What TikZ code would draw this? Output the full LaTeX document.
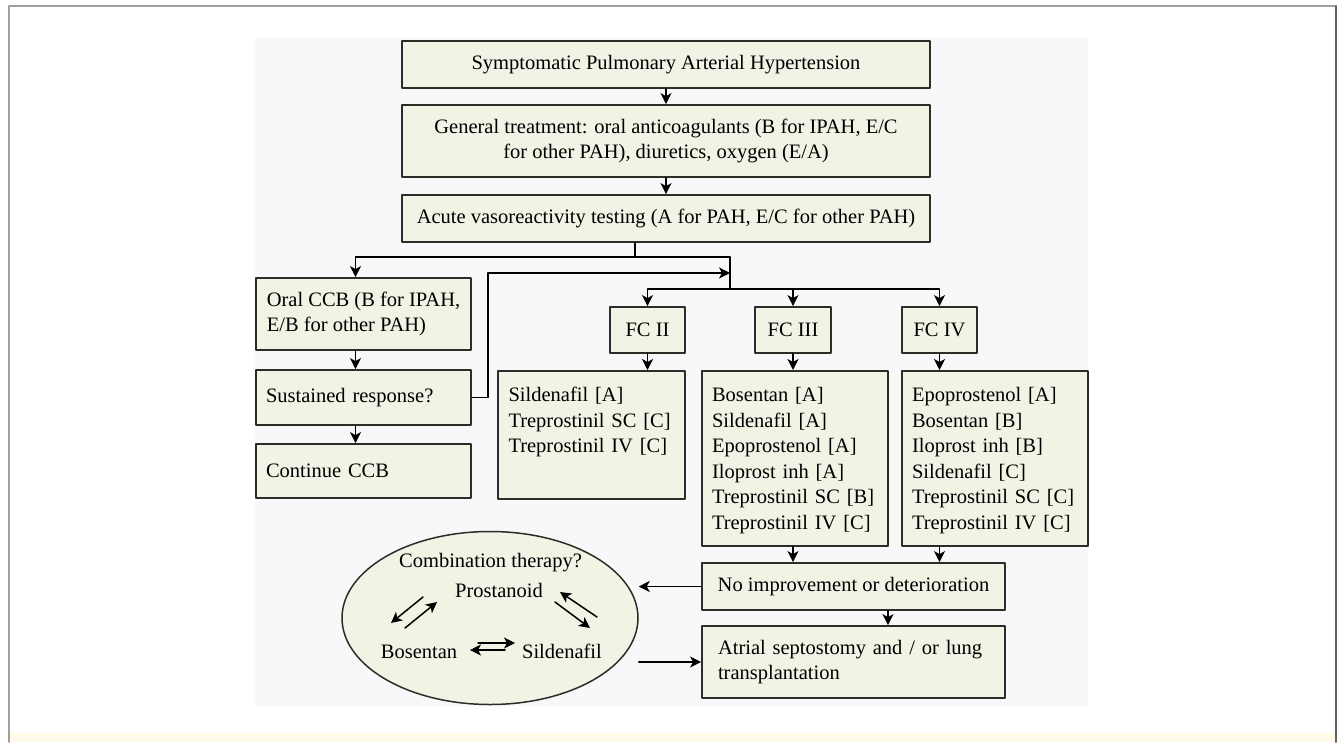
\documentclass[tikz,border=0pt]{standalone}
\usepackage{fontspec}
\setmainfont{Liberation Serif}
\usetikzlibrary{arrows.meta,shapes.geometric}

\definecolor{boxfill}{RGB}{242,242,229}
\definecolor{boxline}{RGB}{45,45,40}
\definecolor{panel}{RGB}{247,248,250}
\definecolor{frameline}{RGB}{160,160,160}
\definecolor{footstrip}{RGB}{255,251,232}

\begin{document}
\begin{tikzpicture}[line cap=round,line join=round,>={Stealth[length=11pt,width=11pt,inset=3pt]},x=1pt,y=-1pt,
    font=\fontsize{20.5}{25.5}\selectfont,
    box/.style={draw=boxline, fill=boxfill, line width=1.8pt, inner sep=0pt},
    listbox/.style={box, anchor=north, align=left, text width=166pt, text height=31pt},
    flow/.style={->, line width=1.5pt}]
    \useasboundingbox (0,0) rectangle (1341,742);

    % page frame and panel
    \fill[footstrip] (10,733) rectangle (1335,742);
    \fill[panel] (255,38) rectangle (1088,706);
    \draw[frameline, line width=1.5pt] (9,742) -- (9,6) -- (1336,6);
    \draw[frameline!60!black, line width=1.5pt] (1336,6) -- (1336,742);

    % main column
    \node[box, minimum width=528pt, minimum height=47pt] (sym) at (666,64.5) {Symptomatic Pulmonary Arterial Hypertension};
    \node[box, minimum width=528pt, minimum height=72pt, align=center] (gen) at (666,141) {General treatment: oral anticoagulants (B for IPAH, E/C\\for other PAH), diuretics, oxygen (E/A)};
    \node[box, minimum width=528pt, minimum height=47pt] (acute) at (666,218.5) {Acute vasoreactivity testing (A for PAH, E/C for other PAH)};

    % responders
    \node[box, minimum width=215pt, minimum height=72pt, align=left] (oral) at (363.5,314) {Oral CCB (B for IPAH,\\E/B for other PAH)};
    \node[box, minimum width=215pt, minimum height=55pt, text width=195pt, align=left] (sust) at (363.5,397.5) {Sustained response?};
    \node[box, minimum width=215pt, minimum height=54pt, text width=195pt, align=left] (cont) at (363.5,471) {Continue CCB};

    % functional classes
    \node[box, minimum width=75pt, minimum height=46pt] (fc2) at (647.5,330) {FC II};
    \node[box, minimum width=76pt, minimum height=46pt] (fc3) at (793,330) {FC III};
    \node[box, minimum width=75pt, minimum height=46pt] (fc4) at (939.5,330) {FC IV};

    \node[listbox, minimum width=187pt, text depth=97pt] (fc2list) at (591.5,370) {Sildenafil [A]\\Treprostinil SC [C]\\Treprostinil IV [C]};
    \node[listbox, minimum width=186pt, text depth=144pt] (fc3list) at (795,370) {Bosentan [A]\\Sildenafil [A]\\Epoprostenol [A]\\Iloprost inh [A]\\Treprostinil SC [B]\\Treprostinil IV [C]};
    \node[listbox, minimum width=186pt, text depth=144pt] (fc4list) at (995,370) {Epoprostenol [A]\\Bosentan [B]\\Iloprost inh [B]\\Sildenafil [C]\\Treprostinil SC [C]\\Treprostinil IV [C]};

    \node[box, minimum width=303pt, minimum height=47pt] (noimp) at (853.5,586.5) {No improvement or deterioration};
    \node[box, minimum width=303pt, minimum height=72pt, text width=271pt, align=left] (atrial) at (853.5,662) {Atrial septostomy and / or lung\\transplantation};

    % combination therapy
    \node[ellipse, draw=boxline, fill=boxfill, line width=1.5pt, minimum width=296pt, minimum height=173pt, inner sep=0pt] (combo) at (490,618) {};
    \node[anchor=base] (ctitle) at (490.5,567) {Combination therapy?};
    \node[anchor=base] (prost) at (499,597) {Prostanoid};
    \node[anchor=base] (bos) at (419,658) {Bosentan};
    \node[anchor=base] (sil) at (562,658) {Sildenafil};

    % connectors
    \coordinate (split) at (635,257);
    \coordinate (join) at (730,257);
    \coordinate (bus) at (730,289);
    \coordinate (loop) at (488,273);

    \draw[flow] (sym) -- (gen);
    \draw[flow] (gen) -- (acute);
    \draw[line width=1.5pt] (acute.south -| split) -- (split);
    \draw[flow] (join) -| ([xshift=-8pt]oral.north);
    \draw[line width=1.5pt] (join) -- (bus);
    \draw[flow] (bus) -| (fc2.north);
    \draw[flow] (bus) -| (fc4.north);
    \draw[flow] (bus -| fc3.north) -- (fc3.north);
    \draw[flow] (sust.east) -| (loop) -- (loop -| join);

    \draw[flow] ([xshift=-8pt]oral.south) -- ([xshift=-8pt]sust.north);
    \draw[flow] ([xshift=-8pt]sust.south) -- ([xshift=-8pt]cont.north);

    \draw[flow] (fc2) -- (fc2 |- fc2list.north);
    \draw[flow] (fc3) -- (fc3 |- fc3list.north);
    \draw[flow] (fc4) -- (fc4 |- fc4list.north);
    \draw[flow] (fc3 |- fc3list.south) -- (fc3 |- noimp.north);
    \draw[flow] (fc4 |- fc4list.south) -- (fc4 |- noimp.north);
    \draw[flow] ([xshift=34.5pt]noimp.south) -- ([xshift=34.5pt]atrial.north);
    \draw[flow] (noimp.west) -- (noimp.west -| combo.east);
    \draw[flow] (combo.east |- atrial.west) -- (atrial.west);

    % paired arrows between the drugs
    \draw[flow] ([shift={(-67,-21)}]combo.center) -- ([shift={(-99,5)}]combo.center);
    \draw[flow] ([shift={(-85,10)}]combo.center) -- ([shift={(-53,-16)}]combo.center);
    \draw[flow] ([shift={(107,-1)}]combo.center) -- ([shift={(70,-26)}]combo.center);
    \draw[flow] ([shift={(65,-16)}]combo.center) -- ([shift={(100,10)}]combo.center);
    \draw[flow] ([shift={(-12,25)}]combo.center) -- ([shift={(25,25)}]combo.center);
    \draw[flow] ([shift={(15,32)}]combo.center) -- ([shift={(-20,32)}]combo.center);
\end{tikzpicture}
\end{document}
